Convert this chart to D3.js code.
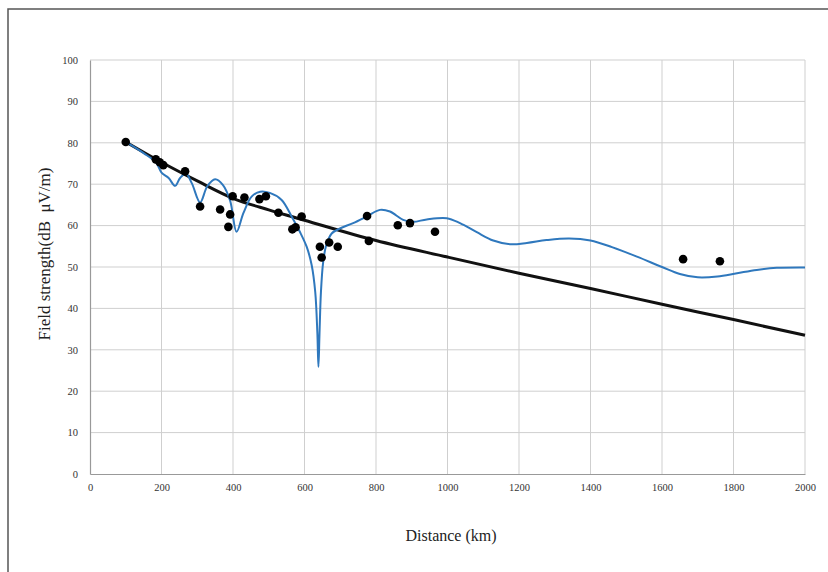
<!DOCTYPE html>
<html>
<head>
<meta charset="utf-8">
<script src="https://cdn.jsdelivr.net/npm/d3@7"></script>
<style>
  body { margin: 0; background: #fff; }
  svg { display: block; font-family: "Liberation Serif", "DejaVu Serif", serif; }
</style>
</head>
<body>
<div id="chart"></div>
<script>
// Measured points (distance km, field strength dB µV/m)
const measuredX = [100, 184, 195, 205, 266, 308, 364, 387, 392, 399, 432, 474, 492, 527, 566, 575, 592,
  643, 648, 669, 693, 775, 780, 861, 895, 965, 1659, 1762];
const measuredY = [80.2, 76, 75.3, 74.6, 73.1, 64.6, 63.9, 59.7, 62.7, 67.1, 66.8, 66.4, 67.1, 63.1, 59.1, 59.6, 62.2,
  54.9, 52.3, 55.9, 54.9, 62.3, 56.3, 60.1, 60.6, 58.5, 51.9, 51.4];

// Black prediction curve
const curveX = [100, 200, 300, 400, 500, 600, 800, 1000, 1200, 1400, 1600, 1800, 2000];
const curveY = [80.2, 75.3, 70.8, 66.6, 63.8, 61.3, 56.4, 52.4, 48.5, 44.8, 41.0, 37.3, 33.5];

// Blue calculated curve
const blueX = [100, 150, 185, 200, 220, 238, 252, 268, 285, 308, 328, 350, 372, 392, 410, 429, 452, 476, 503,
  536, 564, 587, 606, 620, 630, 636, 639, 642, 646, 652, 660, 676, 699, 736, 774, 811, 839, 876, 904, 942,
  998, 1035, 1082, 1128, 1175, 1222, 1277, 1340, 1400, 1460, 1530, 1600, 1650, 1700, 1755, 1810,
  1865, 1921, 2000];
const blueY = [80.2, 77.5, 75.2, 72.8, 71.5, 69.6, 71.5, 72.6, 70.2, 65.6, 69.5, 71.2, 69.8, 66, 58.5, 63, 67,
  68.2, 67.9, 66.2, 62.2, 58.5, 54.9, 50.5, 44, 34, 25.9, 34, 44, 51, 55, 58.1, 59.3, 60.6, 62.2, 63.8,
  63.4, 61.4, 60.9, 61.5, 61.8, 60.6, 58.4, 56.4, 55.5, 55.8, 56.5, 56.9, 56.4, 54.8, 52.5, 50.0,
  48.3, 47.5, 47.7, 48.5, 49.3, 49.8, 49.9];

const xTicks = d3.range(0, 2001, 200);
const yTicks = d3.range(0, 101, 10);

const width = 828, height = 572;
const margin = { left: 90, right: 23, top: 60, bottom: 98 };

const svg = d3.select("#chart").append("svg")
  .attr("width", width)
  .attr("height", height);

// Outer frame
svg.append("rect")
  .attr("x", 8).attr("y", 9)
  .attr("width", 840).attr("height", 600)
  .attr("fill", "none")
  .attr("stroke", "#555")
  .attr("stroke-width", 1.5);

const x = d3.scaleLinear().domain([0, 2000]).range([margin.left, width - margin.right]);
const y = d3.scaleLinear().domain([0, 100]).range([height - margin.bottom, margin.top]);

// Grid
svg.append("g")
  .selectAll("line")
  .data(xTicks.slice(1))
  .join("line")
  .attr("x1", (d) => x(d)).attr("x2", (d) => x(d))
  .attr("y1", y(0)).attr("y2", y(100))
  .attr("stroke", "#cfcfcf")
  .attr("stroke-width", 1);

svg.append("g")
  .selectAll("line")
  .data(yTicks.slice(1))
  .join("line")
  .attr("x1", x(0)).attr("x2", x(2000))
  .attr("y1", (d) => y(d)).attr("y2", (d) => y(d))
  .attr("stroke", "#cfcfcf")
  .attr("stroke-width", 1);

// Axes
const xAxis = svg.append("g")
  .attr("transform", `translate(0,${y(0)})`)
  .call(d3.axisBottom(x).tickValues(xTicks).tickSize(0).tickPadding(10).tickFormat(d3.format("d")));
const yAxis = svg.append("g")
  .attr("transform", `translate(${x(0)},0)`)
  .call(d3.axisLeft(y).tickValues(yTicks).tickSize(0).tickPadding(12).tickFormat(d3.format("d")));

[xAxis, yAxis].forEach((g) => {
  g.attr("font-family", "'Liberation Serif', 'DejaVu Serif', serif").attr("font-size", 10.5);
  g.select(".domain").attr("stroke", "#999").attr("stroke-width", 1.2);
  g.selectAll("text").attr("fill", "#333");
});

// Axis titles
svg.append("text")
  .attr("x", 451).attr("y", 541)
  .attr("text-anchor", "middle")
  .attr("fill", "#222")
  .style("font-size", "16px")
  .text("Distance (km)");

svg.append("text")
  .attr("transform", "translate(50,254) rotate(-90)")
  .attr("text-anchor", "middle")
  .attr("fill", "#222")
  .style("font-size", "17px")
  .style("white-space", "pre")
  .attr("xml:space", "preserve")
  .text("Field strength(dB  \u03bcV/m)");

// Black curve
const black = curveX.map((d, i) => [d, curveY[i]]);
svg.append("path")
  .datum(black)
  .attr("fill", "none")
  .attr("stroke", "#111")
  .attr("stroke-width", 3)
  .attr("d", d3.line().x((d) => x(d[0])).y((d) => y(d[1])).curve(d3.curveMonotoneX));

// Blue curve
const blue = blueX.map((d, i) => [d, blueY[i]]);
svg.append("path")
  .datum(blue)
  .attr("fill", "none")
  .attr("stroke", "#2f78bd")
  .attr("stroke-width", 2)
  .attr("stroke-linejoin", "round")
  .attr("d", d3.line().x((d) => x(d[0])).y((d) => y(d[1])).curve(d3.curveCatmullRom.alpha(0.5)));

// Measured points
svg.append("g")
  .selectAll("circle")
  .data(measuredX.map((d, i) => [d, measuredY[i]]))
  .join("circle")
  .attr("cx", (d) => x(d[0]))
  .attr("cy", (d) => y(d[1]))
  .attr("r", 4.3)
  .attr("fill", "#000");
</script>
</body>
</html>
